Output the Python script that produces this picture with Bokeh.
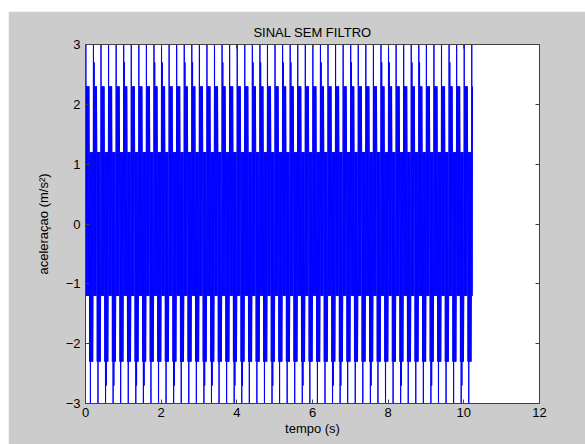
import numpy as np
from bokeh.plotting import figure
from bokeh.models import Range1d, LinearAxis, FixedTicker, CustomJSTickFormatter, Spacer
from bokeh.layouts import column, row
from bokeh.embed import file_html
from bokeh.resources import INLINE

# ---- data ----
sample_rate = 100          # samples per second
n_samples = 1024           # signal ends near t = 10.2 s
# one 0.2 s cycle of samples (m/s^2), read from the repeating pattern
cycle_values = [-1.2, 3.6, -1.2, 2.3, -1.2, 2.3, -1.2, 2.3, -1.2, 2.3,
                1.2, -2.3, 1.2, -3.6, 1.2, -2.3, 1.2, -2.3, 1.2, -2.3]
# cycles in which an extra line reaches +2.7 / -2.7
top_extra_cycles = [1, 5, 9, 10, 13, 14, 18, 22, 23, 26, 27, 31, 35, 39, 40, 43, 44, 48]
bottom_extra_cycles = [2, 3, 6, 7, 11, 15, 16, 19, 20, 24, 28, 32, 33, 37, 41, 45, 49]
top_extra_value = 2.7
bottom_extra_value = -2.7
x_ticks = [0, 2, 4, 6, 8, 10, 12]
y_ticks = [-3, -2, -1, 0, 1, 2, 3]

# ---- build the sampled signal ----
clen = len(cycle_values)
sig = []
for i in range(n_samples):
    c, k = divmod(i, clen)
    v = cycle_values[k]
    if k == 3 and c in top_extra_cycles:
        v = top_extra_value
    if k == 15 and c in bottom_extra_cycles:
        v = bottom_extra_value
    sig.append(v)
t = np.arange(n_samples) / sample_rate

FONT = "Liberation Sans"

p = figure(width=577, height=433, x_range=Range1d(0, 12), y_range=Range1d(-3, 3),
           output_backend="svg", toolbar_location=None,
           min_border_left=77, min_border_right=46, min_border_top=33, min_border_bottom=41)
p.background_fill_color = "white"
p.border_fill_color = "#cccccc"
p.outline_line_color = "#404040"
p.outline_line_width = 1
p.grid.visible = False

p.line(t, sig, line_color="#0000ff", line_width=1)

p.title.text = "SINAL SEM FILTRO"
p.title.align = "center"
p.title.text_font = FONT
p.title.text_font_size = "13px"
p.title.text_font_style = "normal"
p.title.text_color = "black"
p.title.standoff = 9

def style_axis(ax, ticks, show_labels):
    ax.ticker = FixedTicker(ticks=ticks)
    ax.major_tick_in = 4
    ax.major_tick_out = 0
    ax.minor_tick_in = 0
    ax.minor_tick_out = 0
    ax.axis_line_color = "#404040"
    ax.major_tick_line_color = "#404040"
    ax.major_label_text_font = FONT
    ax.major_label_text_font_size = "13px"
    ax.major_label_text_color = "black"
    ax.axis_label_text_font = FONT
    ax.axis_label_text_font_size = "13px"
    ax.axis_label_text_font_style = "normal"
    ax.axis_label_text_color = "black"
    if not show_labels:
        ax.formatter = CustomJSTickFormatter(code="return ''")
        ax.major_label_standoff = 0

xa = p.xaxis[0]
style_axis(xa, x_ticks, True)
xa.axis_label = "tempo (s)"
xa.major_label_standoff = 4
xa.axis_label_standoff = 1

ya = p.yaxis[0]
style_axis(ya, y_ticks, True)
ya.axis_label = "aceleraçao (m/s²)"
ya.major_label_standoff = 5
ya.axis_label_standoff = 12

top_ax = LinearAxis()
style_axis(top_ax, x_ticks, False)
p.add_layout(top_ax, "above")
right_ax = LinearAxis()
style_axis(right_ax, y_ticks, False)
p.add_layout(right_ax, "right")

layout = column(Spacer(width=585, height=11),
                row(Spacer(width=8, height=433), p))

html = file_html(layout, INLINE)
html = html.replace("<body>", '<body style="margin:0;background:white;">')
open("out.html", "w").write(html)
